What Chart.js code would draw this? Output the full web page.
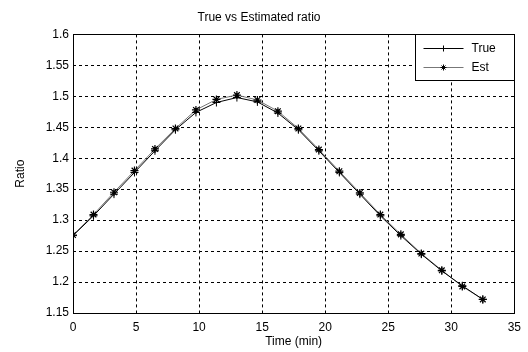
<!DOCTYPE html>
<html>
<head>
<meta charset="utf-8">
<script src="https://cdn.jsdelivr.net/npm/chart.js@4"></script>
<style>
  html, body { margin: 0; padding: 0; background: #fff; }
  #wrap { width: 528px; height: 352px; }
</style>
</head>
<body>
<div id="wrap"><canvas id="ratioChart" width="528" height="352"></canvas></div>
<script>
// data
const timeMin = [0, 1.625, 3.25, 4.875, 6.5, 8.125, 9.75, 11.375, 13, 14.625, 16.25,
                 17.875, 19.5, 21.125, 22.75, 24.375, 26, 27.625, 29.25, 30.875, 32.5];
const trueRatio = [1.275, 1.307, 1.342, 1.377, 1.412, 1.446, 1.474, 1.490, 1.498, 1.491, 1.473,
                   1.446, 1.412, 1.377, 1.342, 1.307, 1.275, 1.245, 1.218, 1.194, 1.172];
const estRatio = [1.276, 1.309, 1.345, 1.380, 1.415, 1.448, 1.478, 1.495, 1.502, 1.494, 1.476,
                  1.448, 1.414, 1.379, 1.344, 1.309, 1.277, 1.246, 1.219, 1.193, 1.172];
const xTicks = [0, 5, 10, 15, 20, 25, 30, 35];
const yTicks = [1.15, 1.2, 1.25, 1.3, 1.35, 1.4, 1.45, 1.5, 1.55, 1.6];

const font = 'Liberation Sans';
const toPoints = ys => timeMin.map((t, i) => ({ x: t, y: ys[i] }));

// box around the axes + legend drawn inside the plot, like MATLAB
const boxAndLegend = {
    id: 'boxAndLegend',
    afterDraw(chart) {
        const c = chart.ctx;
        const a = chart.chartArea;
        c.save();
        c.strokeStyle = '#000';
        c.lineWidth = 1;
        c.setLineDash([]);
        c.strokeRect(Math.round(a.left) + 0.5, Math.round(a.top) + 0.5,
                     Math.round(a.right - a.left), Math.round(a.bottom - a.top));

        // legend box
        const w = 99, h = 46;
        const lx = Math.round(a.right) - w + 0.5, ly = Math.round(a.top) + 0.5;
        c.fillStyle = '#fff';
        c.fillRect(lx, ly, w, h);
        c.strokeRect(lx, ly, w, h);
        c.font = '12px ' + font;
        c.textBaseline = 'middle';
        chart.data.datasets.forEach((ds, i) => {
            const y = ly + 14 + i * 19;
            c.strokeStyle = ds.borderColor;
            c.beginPath();
            c.moveTo(lx + 8, y);
            c.lineTo(lx + 48, y);
            c.stroke();
            c.strokeStyle = '#000';
            c.beginPath();
            if (ds.pointStyle === 'cross') {
                c.moveTo(lx + 28, y - 3); c.lineTo(lx + 28, y + 3);
                c.moveTo(lx + 25, y); c.lineTo(lx + 31, y);
            } else {
                c.moveTo(lx + 28, y - 3); c.lineTo(lx + 28, y + 3);
                c.moveTo(lx + 25, y); c.lineTo(lx + 31, y);
                c.moveTo(lx + 26, y - 2); c.lineTo(lx + 30, y + 2);
                c.moveTo(lx + 30, y - 2); c.lineTo(lx + 26, y + 2);
            }
            c.stroke();
            c.fillStyle = '#000';
            c.fillText(ds.label, lx + 56, y);
        });
        c.restore();
    }
};

const ctx = document.getElementById('ratioChart').getContext('2d');
new Chart(ctx, {
    type: 'line',
    data: {
        datasets: [{
            label: 'True',
            data: toPoints(trueRatio),
            borderColor: '#000',
            borderWidth: 1,
            pointStyle: 'cross',
            pointRadius: 4,
            pointBorderColor: '#000',
            pointBorderWidth: 1,
            tension: 0
        }, {
            label: 'Est',
            data: toPoints(estRatio),
            borderColor: '#777',
            borderWidth: 1,
            pointStyle: 'star',
            pointRadius: 4,
            pointBorderColor: '#000',
            pointBorderWidth: 1.2,
            tension: 0
        }]
    },
    options: {
        responsive: false,
        animation: false,
        layout: { padding: { right: 10, bottom: 0 } },
        plugins: {
            legend: { display: false },
            tooltip: { enabled: false },
            title: {
                display: true,
                text: 'True vs Estimated ratio',
                color: '#000',
                font: { family: font, size: 12, weight: 'normal' },
                padding: { top: 10, bottom: 10 }
            }
        },
        scales: {
            x: {
                type: 'linear',
                min: 0,
                max: 35,
                afterBuildTicks: s => { s.ticks = xTicks.map(v => ({ value: v })); },
                afterFit: s => { s.height = 39; },
                grid: { color: '#000', lineWidth: 1, drawTicks: false },
                border: { display: false, dash: [3, 3] },
                ticks: { color: '#000', padding: 7, maxRotation: 0, font: { family: font, size: 12 } },
                title: { display: true, text: 'Time (min)', color: '#000',
                         padding: { top: 0, bottom: 3 }, font: { family: font, size: 12 } }
            },
            y: {
                min: 1.15,
                max: 1.6,
                afterBuildTicks: s => { s.ticks = yTicks.map(v => ({ value: v })); },
                afterFit: s => { s.width = 73; },
                grid: { color: '#000', lineWidth: 1, drawTicks: false },
                border: { display: false, dash: [3, 3] },
                ticks: { color: '#000', padding: 4, font: { family: font, size: 12 },
                         callback: v => String(+v.toFixed(2)) },
                title: { display: true, text: 'Ratio', color: '#000',
                         padding: { top: 13, bottom: 0 }, font: { family: font, size: 12 } }
            }
        }
    },
    plugins: [boxAndLegend]
});
</script>
</body>
</html>
